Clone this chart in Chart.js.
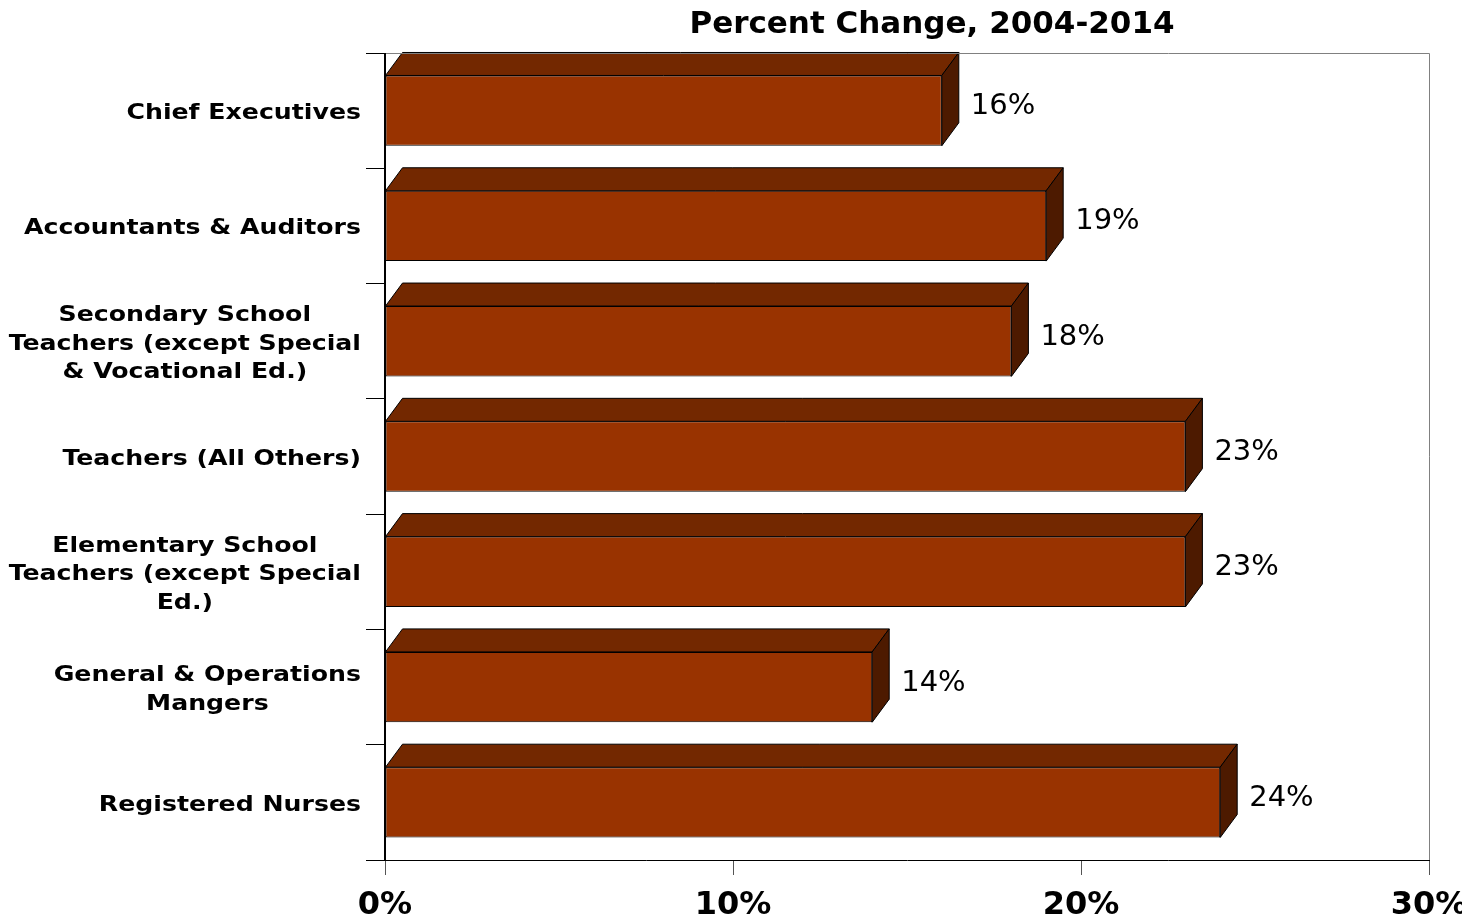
<!DOCTYPE html>
<html>
<head>
<meta charset="utf-8">
<title>Percent Change, 2004-2014</title>
<script src="https://cdn.jsdelivr.net/npm/chart.js@4.4.1/dist/chart.umd.min.js"></script>
<style>
  body { margin: 0; background: #fff; }
  #wrap { width: 1462px; height: 919px; }
</style>
</head>
<body>
<div id="wrap"><canvas id="percentChart"></canvas></div>
<script>
// occupations, each label split in lines as on the slide
const categories = [
    ['Chief Executives'],
    ['Accountants & Auditors'],
    ['Secondary School', 'Teachers (except Special', '& Vocational Ed.)'],
    ['Teachers (All Others)'],
    ['Elementary School', 'Teachers (except Special', 'Ed.)'],
    ['General & Operations', 'Mangers'],
    ['Registered Nurses']
];
const percentChange = [16, 19, 18, 23, 23, 14, 24];
const xTicks = [0, 10, 20, 30];
const chartTitle = 'Percent Change, 2004-2014';

const FRONT = '#993300';
const TOP = '#732800';
const SIDE = '#4d1a00';
const DX = 17, DY = 23;
const FONT = '"DejaVu Sans", Verdana, sans-serif';
const LABEL_STRETCH = 1.2;

// fake 3d: top and side faces behind the real bar
const bars3d = {
    id: 'bars3d',
    beforeDatasetsDraw(chart) {
        const ctx = chart.ctx;
        const meta = chart.getDatasetMeta(0);
        ctx.save();
        ctx.lineWidth = 1;
        ctx.strokeStyle = '#000';
        meta.data.forEach(bar => {
            const p = bar.getProps(['x', 'y', 'base', 'height'], true);
            const top = p.y - p.height / 2, bottom = p.y + p.height / 2;
            ctx.beginPath();
            ctx.moveTo(p.base, top);
            ctx.lineTo(p.base + DX, top - DY);
            ctx.lineTo(p.x + DX, top - DY);
            ctx.lineTo(p.x, top);
            ctx.closePath();
            ctx.fillStyle = TOP;
            ctx.fill();
            ctx.stroke();
            ctx.beginPath();
            ctx.moveTo(p.x, top);
            ctx.lineTo(p.x + DX, top - DY);
            ctx.lineTo(p.x + DX, bottom - DY);
            ctx.lineTo(p.x, bottom);
            ctx.closePath();
            ctx.fillStyle = SIDE;
            ctx.fill();
            ctx.stroke();
        });
        ctx.restore();
    },
    afterDraw(chart) {
        const ctx = chart.ctx;
        const area = chart.chartArea;
        const yScale = chart.scales.y;
        ctx.save();

        // grey frame top and right
        ctx.strokeStyle = '#808080';
        ctx.lineWidth = 1;
        ctx.beginPath();
        ctx.moveTo(area.left, area.top + 0.5);
        ctx.lineTo(area.right + 0.5, area.top + 0.5);
        ctx.lineTo(area.right + 0.5, area.bottom);
        ctx.stroke();

        // left axis a bit heavier, like the slide
        ctx.strokeStyle = '#000';
        ctx.lineWidth = 2;
        ctx.beginPath();
        ctx.moveTo(area.left, area.top);
        ctx.lineTo(area.left, area.bottom);
        ctx.stroke();

        // title
        ctx.fillStyle = '#000';
        ctx.font = 'bold 31px ' + FONT;
        ctx.textAlign = 'center';
        ctx.textBaseline = 'middle';
        ctx.fillText(chartTitle, 932, 25);

        // category labels: lines centred, block right aligned, a bit wide
        ctx.font = 'bold 21px ' + FONT;
        categories.forEach((lines, i) => {
            const cy = yScale.getPixelForValue(i) + 3;
            const maxW = Math.max(...lines.map(l => ctx.measureText(l).width)) * LABEL_STRETCH;
            const cx = area.left - 24 - maxW / 2;
            const lh = 28.5;
            lines.forEach((l, j) => {
                ctx.save();
                ctx.translate(cx, cy + (j - (lines.length - 1) / 2) * lh);
                ctx.scale(LABEL_STRETCH, 1);
                ctx.fillText(l, 0, 0);
                ctx.restore();
            });
        });

        // value labels
        ctx.font = '29px ' + FONT;
        ctx.textAlign = 'left';
        const meta = chart.getDatasetMeta(0);
        meta.data.forEach((bar, i) => {
            const p = bar.getProps(['x', 'y'], true);
            ctx.fillText(percentChange[i] + '%', p.x + DX + 12, p.y - 4);
        });
        ctx.restore();
    }
};

new Chart(document.getElementById('percentChart'), {
    type: 'bar',
    data: {
        labels: categories,
        datasets: [{
            data: percentChange,
            backgroundColor: FRONT,
            borderColor: '#000',
            borderWidth: 1,
            borderSkipped: false,
            categoryPercentage: 1,
            barPercentage: 0.61
        }]
    },
    options: {
        indexAxis: 'y',
        responsive: true,
        maintainAspectRatio: false,
        animation: false,
        layout: { padding: { top: 53, right: 33, left: 0, bottom: 0 } },
        plugins: {
            legend: { display: false },
            tooltip: { enabled: false },
            title: { display: false }
        },
        scales: {
            x: {
                min: 0,
                max: 30,
                afterBuildTicks(scale) {
                    scale.ticks = xTicks.map(v => ({ value: v }));
                },
                afterFit(scale) {
                    scale.height = 59;
                    scale.paddingLeft = 0;
                    scale.paddingRight = 0;
                },
                grid: {
                    drawOnChartArea: false,
                    tickLength: 15,
                    color: '#555'
                },
                border: { color: '#000', width: 1 },
                ticks: {
                    maxRotation: 0,
                    padding: 11,
                    color: '#000',
                    font: { family: FONT, size: 32, weight: 'bold' },
                    callback: v => v + '%'
                }
            },
            y: {
                afterFit(scale) {
                    scale.width = 385;
                    scale.paddingTop = 0;
                    scale.paddingBottom = 0;
                },
                grid: {
                    drawOnChartArea: false,
                    tickLength: 19,
                    color: '#000'
                },
                border: { color: '#000', width: 1 },
                ticks: { display: false }
            }
        }
    },
    plugins: [bars3d]
});
</script>
</body>
</html>
